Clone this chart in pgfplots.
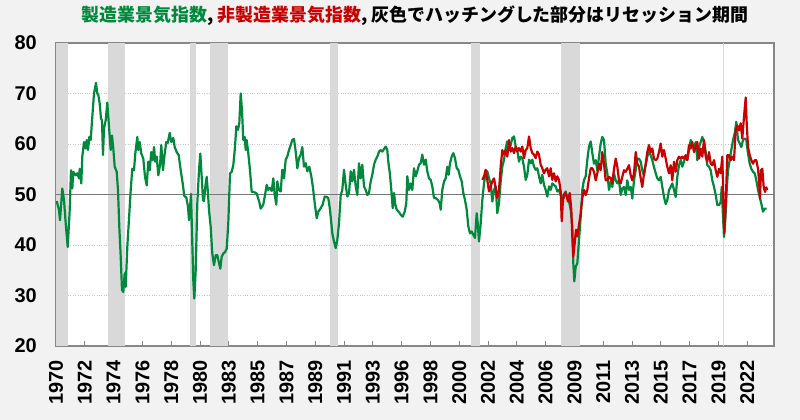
\documentclass[border=0pt]{standalone}
\usepackage{pgfplots}
\pgfplotsset{compat=1.18}
\usepackage{fontspec}
\setmainfont{Liberation Sans}
\newfontfamily\cjk{Noto Sans CJK JP}
\definecolor{mfg}{RGB}{0,137,61}
\definecolor{nonmfg}{RGB}{200,0,0}
\definecolor{bandc}{RGB}{217,217,217}
\definecolor{bgc}{RGB}{242,242,242}
\definecolor{framec}{RGB}{135,135,135}
\definecolor{gridc}{RGB}{200,200,200}
\definecolor{midc}{RGB}{120,120,120}
\begin{document}
\begin{tikzpicture}
\useasboundingbox (0,0) rectangle (800bp,420bp);
\fill[bgc] (0,0) rectangle (800bp,420bp);
\begin{axis}[
 at={(56bp,74bp)}, anchor=south west,
 scale only axis, width=718bp, height=303bp,
 xmin=0, xmax=718, ymin=20, ymax=80,
 xtick={0,28.8,57.6,86.4,115.2,144,172.8,201.6,230.4,259.2,288,316.8,345.6,374.4,403.2,432,460.8,489.6,518.4,547.2,576,604.8,633.6,662.4,691.2},
 xticklabels={1970,1972,1974,1976,1978,1980,1983,1985,1987,1989,1991,1993,1996,1998,2000,2002,2004,2006,2009,2011,2013,2015,2017,2019,2022},
 ytick={20,30,40,50,60,70,80},
 axis background/.style={fill=white},
 axis line style={draw=framec, line width=1.2bp},
 tick align=inside, xtick pos=bottom, ytick pos=left,
 major tick length=5bp,
 xtick style={draw=framec, line width=1bp},
 ytick style={draw=none},
 ymajorgrids, grid style={gridc, dotted, line width=0.8bp},
 tick label style={font=\bfseries\fontsize{20}{24}\selectfont},
 /pgf/number format/assume math mode=true,
 xticklabel style={rotate=90, anchor=east, inner sep=0pt},
 xticklabel shift=14bp,
 yticklabel style={anchor=east, inner sep=0pt},
 yticklabel shift=19bp,
 title={{\color{mfg}製造業景気指数}, {\color{nonmfg}非製造業景気指数}, 灰色でハッチングした部分はリセッション期間},
 title style={at={(0.5,1)}, anchor=base, yshift=16bp, inner sep=0pt, font=\cjk\bfseries\fontsize{18}{20}\selectfont},
]
% recession bands
\addplot[fill=bandc, draw=none, forget plot] coordinates {(0,20)(0,80)(11.7,80)(11.7,20)} -- cycle;
\addplot[fill=bandc, draw=none, forget plot] coordinates {(51.8,20)(51.8,80)(69,80)(69,20)} -- cycle;
\addplot[fill=bandc, draw=none, forget plot] coordinates {(134,20)(134,80)(140.3,80)(140.3,20)} -- cycle;
\addplot[fill=bandc, draw=none, forget plot] coordinates {(153.7,20)(153.7,80)(172.1,80)(172.1,20)} -- cycle;
\addplot[fill=bandc, draw=none, forget plot] coordinates {(273.5,20)(273.5,80)(281.8,80)(281.8,20)} -- cycle;
\addplot[fill=bandc, draw=none, forget plot] coordinates {(415.3,20)(415.3,80)(423.7,80)(423.7,20)} -- cycle;
\addplot[fill=bandc, draw=none, forget plot] coordinates {(504.8,20)(504.8,80)(524.3,80)(524.3,20)} -- cycle;
\addplot[fill=bandc, draw=none, forget plot] coordinates {(666.8,20)(666.8,80)(668.3,80)(668.3,20)} -- cycle;
% 50 line
\addplot[midc, line width=1.8bp, forget plot] coordinates {(0,50)(718,50)};
% manufacturing
\addplot[mfg, line width=2.2bp, line join=round] coordinates {
(0.7,48.7)(3,46.9)(4,44.9)(6.3,51.2)(8,48.9)(9.7,44.3)(11.7,39.6)(13.7,46.9)(15,54.8)(16.3,51.2)(17.3,54.5)(19.7,53.8)(21.3,54.2)(23,53.2)(23.7,55.1)(25.3,52.2)(26.3,57.5)(28,60.4)(29.7,59.1)(30.7,60.8)(32,58.8)(33.3,61.4)(34.7,60.8)(36.3,65.4)(38,70)(40,72.1)(41.3,70)(42.3,69.7)(43.7,68)(45,65)(46,64.7)(47,57.8)(48,63.1)(49.7,64.7)(51.3,68.2)(53,63.4)(54.7,58.8)(56,61.7)(57.3,59.1)(58.7,55.5)(60.7,54.5)(62,50.9)(63.3,43.6)(64.7,37.7)(66,31.1)(67.3,30.7)(68.7,34.4)(69.7,31.7)(71.3,39.6)(73.3,46.2)(74.7,50.9)(76.3,55.1)(78,54.8)(79.3,58.1)(81.3,61.4)(82.3,58.8)(83.7,60.4)(85.3,58.1)(87.3,57.1)(89,53.5)(90.7,51.8)(92.3,56.5)(93.7,54.8)(95.3,58.4)(96.7,56.8)(98,59.4)(99.3,56.5)(100.7,57.5)(102.3,53.8)(104,55.8)(105.3,59.8)(107,54.8)(108.7,58.1)(110.3,60.4)(111.7,60.2)(113.7,62.2)(115.3,60.4)(117.3,61.2)(118.7,59.4)(120.7,58.4)(122.7,57.8)(124.7,54.8)(126.7,52.2)(128.3,49.7)(130.3,49.4)(132,47.6)(133,44.9)(134.3,48.2)(135,50.1)(136.3,40.3)(137.3,33)(138.3,29.4)(139.7,35)(141.3,48.2)(143,54.8)(144.3,58.1)(145.7,53.5)(147,48.9)(148,48.7)(149.3,51.5)(150.7,53.5)(152,50.2)(153,46.9)(154.7,43.6)(156.3,38.3)(158,36)(159.7,38)(161.3,38)(162.7,36.7)(164.3,35.3)(165.7,37.7)(167.3,38.3)(169,38.6)(170.7,39.3)(172.3,44.3)(174,54.2)(175.7,54.5)(177.3,55.8)(179,59.4)(180.3,63.5)(182,62.8)(183.3,64.1)(184.7,70)(186,66.7)(187.3,60.8)(188.7,61.4)(189.7,58.8)(190.7,60.8)(192.3,58.1)(194,54.8)(195.7,50.5)(198,50.5)(200.7,50.2)(203.3,48.5)(204.7,47.2)(207.3,48)(209,49.9)(210.7,51.9)(212.3,50.9)(214,51.3)(215.7,50.7)(217.3,53.2)(218.7,49.9)(220.3,48)(221.3,52.6)(222.7,50.9)(224.7,50.6)(226.3,54.9)(228,53.2)(229.7,56.9)(231.3,57.5)(233,58.8)(234.7,59.8)(236.3,60.8)(238,61)(239.7,58.5)(241.3,55.2)(243,57.2)(244.7,57.9)(246.3,59.4)(248,55.5)(249.7,56.2)(251.3,54.6)(253.3,55.5)(255.3,53.6)(257,51.3)(258.7,48.3)(260.7,45.3)(262.3,46.6)(264.7,47.3)(266.7,48)(268.7,49.6)(270.7,49.5)(272.3,49.3)(274,47)(276.3,42.3)(278,40.7)(279.7,39.4)(281.3,41)(283,44.3)(284.7,49.9)(286.3,50.9)(288,54.9)(289.7,51.9)(291.3,49.6)(293,50.3)(294.7,54.6)(296.3,52.6)(298,54.9)(299.7,51.6)(301.3,49.9)(303,56.2)(304.7,53.2)(306.3,55.9)(308,51.6)(309.7,50.9)(311.3,49.9)(313,50.3)(314.7,52.6)(316.3,53.9)(318,55.9)(319.7,56.9)(321.3,57.5)(323,58.5)(324.7,58.8)(326.3,58.5)(328,59)(329.7,59.5)(331.3,58.8)(332.3,56.5)(334,53.9)(335.3,50.9)(336.7,47.3)(338,50.3)(339.3,48)(340.7,47)(342.7,46.6)(344.7,46)(346.7,45.6)(348.7,46.6)(350.3,48.3)(351.3,53.6)(353,50.9)(354.7,52.2)(356.3,50.9)(358,55.2)(359.7,53.6)(361.3,54.6)(363,55.9)(364.7,56.2)(366.3,57.9)(368,55.9)(369.7,56.9)(371.3,54.6)(373,53.2)(374.7,52.9)(376.3,51.6)(378,49.3)(379.7,49.3)(382,48.9)(383.7,48.3)(384.7,47)(386.3,50.9)(388,52.6)(389.7,53.2)(391.3,55.5)(392.7,53.9)(394,56.2)(395.7,57.5)(397.3,58.2)(399,57.2)(400.7,55.2)(402.3,54.9)(404,53.6)(405.7,52.6)(407.3,50.3)(409,48.9)(410.7,47)(412.3,43.7)(414,42.3)(415.7,42.7)(417.3,42)(419,41.4)(420.7,46.3)(421.7,44.3)(423,40.7)(424.7,44.3)(426.3,48.9)(428,52.2)(429.7,54.2)(431.3,54.6)(433,53.2)(434.7,52.2)(436.3,48.6)(438,50.9)(439.7,51.6)(441.3,46.3)(443,48.3)(444.7,52.6)(446.3,55.5)(448,56.9)(449.7,59.2)(451.3,60.5)(453,60.2)(454.7,59.8)(456.3,61.2)(458,61.5)(459.7,59.5)(461.3,58.8)(463,56.5)(464.7,57.5)(466.3,57.2)(468,55.5)(469.7,52.9)(471.3,53.9)(473,56.9)(474.7,56.2)(476.3,56.9)(478,55.5)(479.7,54.9)(481.3,55.2)(483,53.6)(484.7,52.2)(486.3,53.9)(488,51.9)(489.7,50.9)(491.3,49.6)(493,51.6)(494.7,50.9)(496.3,52.2)(498,51.9)(499.7,51.6)(501.3,50.6)(503,50.9)(504.7,49.9)(506.3,49.3)(508,49.9)(509.7,50.6)(511.3,49.3)(513,48.6)(514.7,47)(516.3,43.7)(517.3,36.4)(518.3,32.8)(519.7,35.7)(521.3,36.4)(523,41)(524.7,45.6)(526.3,50.9)(528,52.9)(529.7,53.6)(531.3,56.9)(533,59.5)(534.7,60.5)(536.3,58.2)(538,56.1)(539.7,56.8)(541.3,54.8)(543,57.5)(544.7,60.1)(546.3,61.4)(548,60.8)(549.7,56.1)(551.3,54.2)(553,50.9)(554.7,52.5)(556.3,51.5)(558,54.2)(559.7,52.8)(561.3,52.2)(563,52.8)(564.7,49.9)(566.3,51.2)(568,51.5)(569.7,49.9)(571.3,52.8)(573,50.9)(574.7,51.5)(576.3,49.2)(578,52.8)(579.7,54.8)(581.3,57.1)(583,57.1)(584.7,56.5)(586.3,54.8)(588,53.8)(589.7,55.8)(591.3,57.5)(593,58.4)(594.7,57.8)(596.3,56.8)(598,55.4)(599.7,54.2)(601.3,53.2)(603,52.8)(604.7,53.5)(606.3,51.5)(608,49.5)(609.7,48.1)(611.3,48.9)(613,50.9)(614.7,51.5)(616.3,52.2)(618,50.9)(619.7,49.5)(621.3,53.5)(623,55.8)(624.7,56.8)(626.3,55.5)(628,56.5)(629.7,57.5)(631.3,56.8)(633,58.8)(634.7,60.8)(636.3,59.8)(638,59.1)(639.7,60.4)(641.3,56.8)(643,59.4)(644.7,60.4)(646.3,61.4)(648,60.4)(649.7,58.4)(651.3,55.8)(653,55.5)(654.7,54.8)(656.3,52.8)(658,51.5)(659.7,49.9)(661.3,47.9)(663,47.9)(664.7,48.5)(665.7,51.5)(666.7,46.9)(668,41.6)(669.3,44.9)(670.7,50.9)(672,54.8)(673.7,56.8)(675.3,58.8)(677,60.8)(678.7,62.1)(680.3,64.4)(682,60.8)(683.7,60.1)(685.3,59.4)(687,60.8)(688.7,61.1)(690.3,60.8)(692,58.1)(693.7,56.1)(695.3,55.1)(697,54.5)(698.7,54.2)(700.3,52.8)(702,50.9)(703.7,49.5)(705.3,48.2)(707,46.6)(708.7,47.2)(710.7,47.2)
};
% non-manufacturing
\addplot[nonmfg, line width=2.2bp, line join=round] coordinates {
(426.3,52.9)(428,53.6)(429.7,54.9)(431.3,52.9)(433,50.6)(434.7,51.6)(436.3,52.6)(438,53.2)(439.7,51.3)(441.3,49.3)(443,50.9)(444.7,55.5)(446.3,58.8)(448,57.9)(449.7,58.8)(451.3,57.5)(453,60.8)(454.7,58.5)(456.3,59.2)(458,58.2)(459.7,59.5)(461.3,58.5)(463,59.2)(464.7,58.5)(466.3,59.5)(468,57.2)(469.7,58.8)(471.3,59.2)(473,61.5)(474.7,59.2)(476.3,58.2)(478,57.9)(479.7,57.2)(481.3,58.5)(483,57.9)(484.7,55.9)(486.3,55.2)(488,54.2)(489.7,54.9)(491.3,55.2)(493,53.6)(494.7,55.2)(496.3,52.9)(498,54.2)(499.7,52.6)(501.3,53.6)(503,52.9)(504.7,50.6)(505.7,44.7)(507,48.9)(508.7,50.3)(510.3,49.9)(512,48.6)(513.7,50.3)(515.3,47)(516.3,41.7)(517.3,37.7)(518.7,40.4)(520,43)(521.3,41.7)(523,44)(524.7,46.3)(526.3,49.3)(528,50.9)(529.7,49.9)(531.3,50.9)(533,53.2)(534.7,55.2)(536.3,55.2)(538,54.5)(539.7,52.8)(541.3,54.2)(543,56.1)(544.7,54.8)(546.3,58.4)(548,56.1)(549.7,52.8)(551.3,52.8)(553,53.5)(554.7,53.2)(556.3,52.2)(558,55.1)(559.7,57.1)(561.3,55.5)(563,52.8)(564.7,52.2)(566.3,53.5)(568,54.8)(569.7,54.5)(571.3,55.1)(573,55.8)(574.7,53.8)(576.3,52.8)(578,54.2)(579.7,58.4)(581.3,56.1)(583,55.5)(584.7,53.2)(586.3,51.5)(588,54.2)(589.7,56.1)(591.3,58.4)(593,59.8)(594.7,58.4)(596.3,59.1)(598,57.1)(599.7,56.8)(601.3,57.1)(603,58.4)(604.7,60.1)(606.3,57.5)(608,58.8)(609.7,57.1)(611.3,55.5)(613,54.2)(614.7,55.8)(616.3,52.8)(618,56.5)(619.7,54.5)(621.3,56.8)(623,57.5)(624.7,57.1)(626.3,57.5)(628,57.1)(629.7,57.8)(631.3,56.8)(633,59.8)(634.7,59.1)(636.3,60.4)(638,58.4)(639.7,59.4)(641.3,60.4)(643,57.1)(644.7,59.1)(646.3,57.5)(648,60.8)(649.7,57.5)(651.3,56.5)(653,58.4)(654.7,56.1)(656.3,55.8)(658,56.8)(659.7,54.8)(661.3,53.5)(663,55.1)(664.7,54.2)(666.3,57.5)(667.3,49.5)(668.3,42.3)(669.7,48.2)(671.3,57.8)(673,57.8)(674.7,56.8)(676.3,57.5)(678,56.8)(679.7,62.7)(681.3,63.7)(683,62.7)(684.7,64.1)(686.3,61.1)(688,65.4)(689.7,69.2)(690.7,64.1)(692,59.4)(693.7,57.8)(695.3,56.8)(697,56.1)(698.7,56.8)(700.3,56.8)(702,55.1)(703,52.8)(704,49.2)(705,54.8)(706.3,55.1)(707.7,51.5)(709,50.5)(710.3,51.4)(711.3,50.9)
};
\end{axis}
\end{tikzpicture}
\end{document}
